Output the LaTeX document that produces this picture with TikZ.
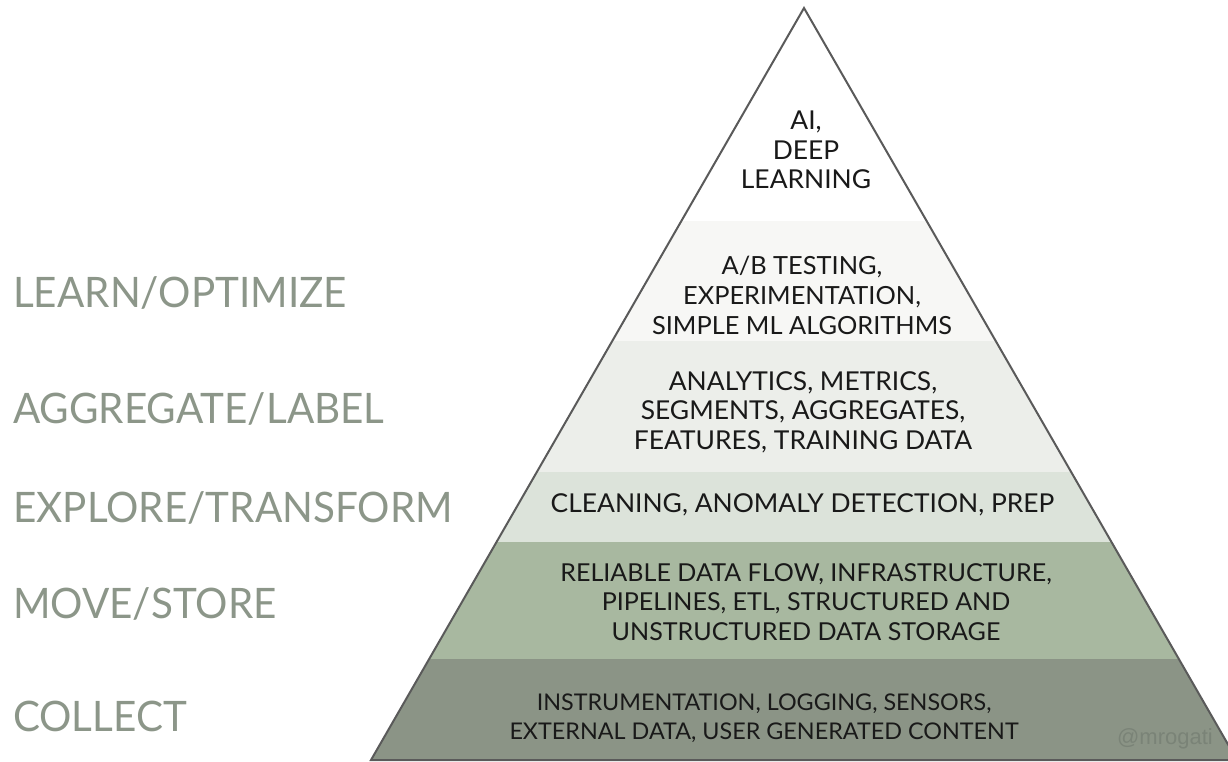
\documentclass[tikz,border=0pt]{standalone}
\usepackage{fontspec}
\newfontfamily\pyrfont[FakeStretch=1.015]{Lato}
\newfontfamily\labfont[FakeStretch=0.962]{Lato}
\newfontfamily\tagfont{Liberation Sans}
\definecolor{bandA}{HTML}{FFFFFF}
\definecolor{bandB}{HTML}{F7F7F5}
\definecolor{bandC}{HTML}{ECEEEA}
\definecolor{bandD}{HTML}{DCE3DA}
\definecolor{bandE}{HTML}{A8B8A0}
\definecolor{bandF}{HTML}{8B9486}
\definecolor{edgegray}{HTML}{5A5A5A}
\definecolor{labgray}{HTML}{8C9689}
\definecolor{taggray}{HTML}{7A8377}
\tikzset{
  pyrtext/.style={align=center,inner sep=0pt,text=black!90,font=\pyrfont\fontsize{26}{29.5}\selectfont},
  levellabel/.style={anchor=west,inner sep=0pt,text=labgray,font=\labfont\fontsize{42}{48}\selectfont},
  outline/.style={draw=edgegray,line width=2pt,line join=miter}
}
\begin{document}
\begin{tikzpicture}[x=1pt,y=-1pt]
\useasboundingbox (0,0) rectangle (1228,761);
\coordinate (apex) at (804,8);
\coordinate (bl) at (371,760);
\coordinate (br) at (1237,760);
\begin{scope}
  \clip (0,0) rectangle (1228,761);
  \begin{scope}
    \clip (apex) -- (bl) -- (br) -- cycle;
    \fill[bandA] (0,0) rectangle (1240,221);
    \fill[bandB] (0,221) rectangle (1240,341);
    \fill[bandC] (0,341) rectangle (1240,472);
    \fill[bandD] (0,472) rectangle (1240,542);
    \fill[bandE] (0,542) rectangle (1240,659);
    \fill[bandF] (0,659) rectangle (1240,761);
  \end{scope}
  \draw[outline] (apex) -- (bl) -- (br) -- cycle;
\end{scope}

\node[pyrtext] (t1) at (806,150) {AI,\\DEEP\\LEARNING};
\node[pyrtext,font=\pyrfont\fontsize{25}{30}\selectfont] (t2) at (802,295) {A/B TESTING,\\EXPERIMENTATION,\\SIMPLE ML ALGORITHMS};
\node[pyrtext] (t3) at (803,412) {ANALYTICS, METRICS,\\SEGMENTS, AGGREGATES,\\FEATURES, TRAINING DATA};
\node[pyrtext] (t4) at (802.5,505) {CLEANING, ANOMALY DETECTION, PREP};
\node[pyrtext,font=\pyrfont\fontsize{24.7}{29.5}\selectfont] (t5) at (806,602) {RELIABLE DATA FLOW, INFRASTRUCTURE,\\PIPELINES, ETL, STRUCTURED AND\\UNSTRUCTURED DATA STORAGE};
\node[pyrtext,font=\pyrfont\fontsize{23}{29}\selectfont] (t6) at (764,718) {INSTRUMENTATION, LOGGING, SENSORS,\\EXTERNAL DATA, USER GENERATED CONTENT};

\node[levellabel] (l1) at (13,293) {LEARN/OPTIMIZE};
\node[levellabel] (l2) at (13,409) {AGGREGATE/LABEL};
\node[levellabel] (l3) at (13,508) {EXPLORE/TRANSFORM};
\node[levellabel] (l4) at (13,604) {MOVE/STORE};
\node[levellabel] (l5) at (13,716) {COLLECT};

\node[anchor=east,inner sep=0pt,text=taggray,font=\tagfont\fontsize{22}{26}\selectfont] (tag) at (1213,739) {@mrogati};
\end{tikzpicture}
\end{document}
